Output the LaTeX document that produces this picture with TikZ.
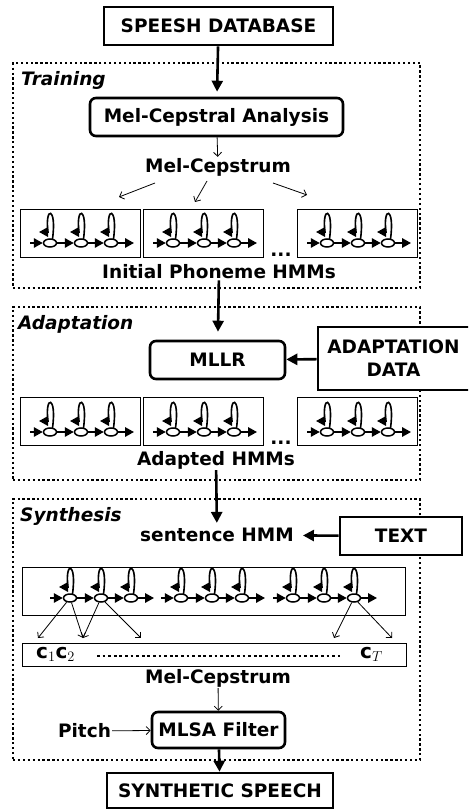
\documentclass[tikz,border=0pt]{standalone}
\usepackage{fontspec}
\setmainfont{DejaVu Sans}
\usetikzlibrary{arrows.meta,shapes.geometric}
\tikzset{
  lbl/.style={font=\bfseries\fontsize{18.5}{21}\selectfont, inner sep=1pt},
  seclabel/.style={font=\bfseries\itshape\fontsize{18.5}{21}\selectfont, inner sep=0pt, anchor=west},
  plainbox/.style={draw, line width=2.6pt, fill=white, inner sep=0pt, font=\bfseries\fontsize{18.5}{21}\selectfont, align=center},
  rbox/.style={draw, line width=2.6pt, rounded corners=6pt, fill=white, inner sep=0pt, font=\bfseries\fontsize{18.5}{21}\selectfont},
  secbox/.style={draw, line width=2.3pt, dash pattern=on 2.3pt off 2.6pt, inner sep=0pt},
  hmmbox/.style={draw, line width=0.9pt, inner sep=0pt},
  big/.style={line width=2.6pt, -{Triangle[length=11pt,width=11pt]}},
  thin/.style={line width=0.8pt, -{Straight Barb[length=4pt,width=8pt]}},
  st/.style={draw, ellipse, line width=1.5pt, fill=white, minimum width=13pt, minimum height=8pt, inner sep=0pt},
  tr/.style={line width=1.6pt, -{Triangle[length=9pt,width=9.5pt]}},
  lp/.style={line width=1.6pt, -{Triangle[length=9pt,width=9.5pt]}},
  hmm/.pic={
    \coordinate (-in) at (0,0);
    \node[st] (-s1) at (20,0) {};
    \node[st] (-s2) at (51,0) {};
    \node[st] (-s3) at (81,0) {};
    \coordinate (-out) at (104,0);
    \draw[tr] (-in) -- (-s1);
    \draw[tr] (-s1) -- (-s2);
    \draw[tr] (-s2) -- (-s3);
    \draw[tr] (-s3) -- (-out);
    \foreach \x in {20,51,81}{
      \draw[lp] (\x+2.5,-4) .. controls (\x+7,-37) and (\x-5.5,-37) .. (\x-2,-11) -- (\x-11,-11);
    }
  }
}
\begin{document}
\begin{tikzpicture}[x=1pt,y=-1pt]
\useasboundingbox (0,0) rectangle (468,810);
\clip (0,0) rectangle (468,810);

% section boxes
\node[secbox, minimum width=407pt, minimum height=225pt] (train) at (216.5,175.5) {};
\node[secbox, minimum width=407pt, minimum height=173pt] (adapt) at (216.5,393.5) {};
\node[secbox, minimum width=407pt, minimum height=261pt] (synth) at (216.5,629.5) {};
\node[seclabel] (trl) at (21,80) {Training};
\node[seclabel] (adl) at (18,324) {Adaptation};
\node[seclabel] (syl) at (20,516) {Synthesis};

% top
\node[plainbox, minimum width=229pt, minimum height=38pt] (db) at (218.5,26) {SPEESH DATABASE};
\node[rbox, minimum width=253pt, minimum height=38pt] (mca) at (216.5,117) {Mel-Cepstral Analysis};
\draw[big, shorten >=5pt] (db) -- (mca);
\node[lbl] (mc1) at (218,167) {Mel-Cepstrum};
\draw[thin] (mca) -- (mc1);

% training HMM boxes
\node[hmmbox, minimum width=120pt, minimum height=48pt] (b11) at (80,233) {};
\node[hmmbox, minimum width=120pt, minimum height=48pt] (b12) at (203,233) {};
\node[hmmbox, minimum width=120pt, minimum height=48pt] (b13) at (357,233) {};
\pic (h11) at (30,243) {hmm};
\pic (h12) at (153,243) {hmm};
\pic (h13) at (307,243) {hmm};
\node[lbl, anchor=base] (d1) at (281,256) {...};
\coordinate (a1s) at (155,183); \coordinate (a1e) at (119,197);
\coordinate (a2s) at (207,181); \coordinate (a2e) at (195,202);
\coordinate (a3s) at (273,183); \coordinate (a3e) at (307,195);
\draw[thin] (a1s) -- (a1e);
\draw[thin] (a2s) -- (a2e);
\draw[thin] (a3s) -- (a3e);
\node[lbl] (iph) at (219,272) {Initial Phoneme HMMs};

% adaptation
\node[rbox, minimum width=135pt, minimum height=38pt] (mllr) at (217.5,360) {MLLR};
\draw[big, shorten >=8pt] (iph) -- (mllr);
\node[plainbox, minimum width=166pt, minimum height=63pt, text width=160pt, font=\bfseries\fontsize{18.5}{23}\selectfont] (ad) at (401,358.5) {\hspace*{-15pt}ADAPTATION\\\hspace*{-15pt}DATA};
\draw[big] (ad) -- (mllr);
\node[hmmbox, minimum width=120pt, minimum height=48pt] (b21) at (80,421) {};
\node[hmmbox, minimum width=120pt, minimum height=48pt] (b22) at (203,421) {};
\node[hmmbox, minimum width=120pt, minimum height=48pt] (b23) at (357,421) {};
\pic (h21) at (30,432) {hmm};
\pic (h22) at (153,432) {hmm};
\pic (h23) at (307,432) {hmm};
\node[lbl, anchor=base] (d2) at (281,444) {...};
\node[lbl] (ahm) at (216,460) {Adapted HMMs};

% synthesis
\node[lbl] (shmm) at (217,535) {sentence HMM};
\draw[big, shorten >=4pt] (ahm) -- (shmm);
\node[plainbox, minimum width=122pt, minimum height=38pt] (txt) at (401,536) {TEXT};
\draw[big, shorten >=8pt] (txt) -- (shmm);
\node[hmmbox, minimum width=383pt, minimum height=48pt] (bs) at (213.5,591) {};
\pic (g1) at (50,598) {hmm};
\pic (g2) at (161,598) {hmm};
\pic (g3) at (273,598) {hmm};
\node[hmmbox, minimum width=384pt, minimum height=23pt] (cb) at (214,654.5) {};
\node[anchor=west, inner sep=0pt, font=\fontsize{20}{22}\selectfont] (c12) at (36,654) {$\mathbf{c}_1\mathbf{c}_2$};
\draw[line width=2.8pt, dash pattern=on 2.8pt off 2.8pt] (97,656) -- (340,656);
\node[anchor=west, inner sep=0pt, font=\fontsize{20}{22}\selectfont] (ct) at (360,654) {$\mathbf{c}_T$};
\coordinate (e1) at (38,638);
\coordinate (e2) at (83,638);
\coordinate (e3) at (141,638);
\coordinate (e4) at (334,638);
\coordinate (e5) at (392,638);
\draw[thin] (g1-s1) -- (e1);
\draw[thin] (g1-s1) -- (e2);
\draw[thin] (g1-s2) -- (e2);
\draw[thin] (g1-s2) -- (e3);
\draw[thin] (g3-s3) -- (e4);
\draw[thin] (g3-s3) -- (e5);
\node[lbl] (mc2) at (218,678) {Mel-Cepstrum};
\node[rbox, minimum width=133pt, minimum height=36pt] (mlsa) at (218.5,730) {MLSA Filter};
\draw[thin] (mc2) -- (mlsa);
\node[lbl] (pitch) at (84.5,731) {Pitch};
\draw[thin] (pitch) -- (mlsa);
\node[plainbox, minimum width=226pt, minimum height=35pt] (ss) at (220,790.5) {SYNTHETIC SPEECH};
\draw[big] (mlsa) -- (ss);
\end{tikzpicture}
\end{document}
